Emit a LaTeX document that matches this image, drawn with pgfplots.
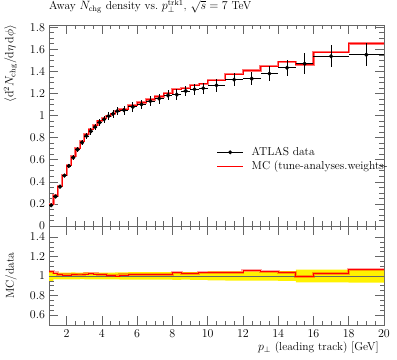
\documentclass[border=0pt]{standalone}
\usepackage{pgfplots}
\usepackage{pgfplotstable}
\usepgfplotslibrary{fillbetween}
\pgfplotsset{compat=1.18}

\pgfplotstableread{
xc dx y ey
1.125 0.125 0.187 0.0095
1.375 0.125 0.267 0.0093
1.625 0.125 0.356 0.0125
1.875 0.125 0.456 0.016
2.125 0.125 0.543 0.019
2.375 0.125 0.619 0.022
2.625 0.125 0.692 0.024
2.875 0.125 0.755 0.026
3.125 0.125 0.815 0.029
3.375 0.125 0.857 0.030
3.625 0.125 0.896 0.031
3.875 0.125 0.937 0.033
4.125 0.125 0.965 0.034
4.375 0.125 0.995 0.035
4.625 0.125 1.015 0.036
4.875 0.125 1.040 0.037
5.25 0.25 1.048 0.040
5.75 0.25 1.078 0.042
6.25 0.25 1.100 0.043
6.75 0.25 1.130 0.044
7.25 0.25 1.153 0.045
7.75 0.25 1.182 0.046
8.25 0.25 1.190 0.047
8.75 0.25 1.222 0.048
9.25 0.25 1.238 0.050
9.75 0.25 1.247 0.050
10.5 0.5 1.274 0.058
11.5 0.5 1.325 0.062
12.5 0.5 1.334 0.062
13.5 0.5 1.379 0.065
14.5 0.5 1.433 0.072
15.5 0.5 1.469 0.095
17 1 1.536 0.100
19 1 1.550 0.105
}\datatab

\pgfplotstableread{
xl mc r up lo
1.00 0.1958 1.047 1.051 0.949
1.25 0.2753 1.031 1.035 0.965
1.50 0.3603 1.012 1.035 0.965
1.75 0.4606 1.010 1.035 0.965
2.00 0.5484 1.010 1.035 0.965
2.25 0.6301 1.018 1.036 0.964
2.50 0.7058 1.020 1.035 0.965
2.75 0.7701 1.020 1.034 0.966
3.00 0.8321 1.021 1.036 0.964
3.25 0.8759 1.022 1.035 0.965
3.50 0.9148 1.021 1.035 0.965
3.75 0.9520 1.016 1.035 0.965
4.00 0.9766 1.012 1.035 0.965
4.25 0.9990 1.004 1.035 0.965
4.50 1.0170 1.002 1.035 0.965
4.75 1.0400 1.000 1.036 0.964
5.0 1.0585 1.010 1.038 0.962
5.5 1.0952 1.016 1.039 0.961
6.0 1.1176 1.016 1.039 0.961
6.5 1.1458 1.014 1.039 0.961
7.0 1.1714 1.016 1.039 0.961
7.5 1.2009 1.016 1.039 0.961
8.0 1.2376 1.040 1.040 0.960
8.5 1.2489 1.022 1.039 0.961
9.0 1.2727 1.028 1.040 0.960
9.5 1.2869 1.032 1.040 0.960
10 1.3186 1.035 1.046 0.954
11 1.3740 1.037 1.047 0.953
12 1.4074 1.055 1.047 0.953
13 1.4452 1.048 1.047 0.953
14 1.4875 1.038 1.050 0.950
15 1.4617 0.995 1.065 0.935
16 1.5759 1.026 1.065 0.935
18 1.6523 1.066 1.068 0.932
20 1.6523 1.066 1.068 0.932
}\steptab

\pgfplotsset{
  rivet/.style={
    scale only axis, width=335pt,
    xmin=1, xmax=20,
    xtick={2,4,...,20}, minor x tick num=3,
    tick align=inside,
    major tick length=9pt, minor tick length=4.5pt,
    axis line style={black!60, line width=0.6pt},
    tick style={black!60, line width=0.5pt},
  }
}

\begin{document}
\fontsize{11.5}{13.5}\selectfont
\begin{tikzpicture}[x=1pt,y=1pt]
\path (0,0) rectangle (397,358);
\begin{axis}[rivet,
  at={(49pt,133.5pt)}, anchor=south west, height=201pt,
  ymin=0, ymax=1.82,
  ytick={0,0.2,...,1.8}, minor y tick num=3,
  xticklabels={},
  title={Away $N_{\mathrm{chg}}$ density vs.\ $p_\perp^{\mathrm{trk1}}$, $\sqrt{s} = 7$~TeV},
  title style={at={(rel axis cs:0,1.045)}, anchor=base west, inner sep=0pt},
  ylabel={$\langle \mathrm{d}^2 N_{\mathrm{chg}}/\mathrm{d}\eta\,\mathrm{d}\phi\rangle$},
  ylabel style={at={(rel axis cs:-0.0955,1)}, anchor=south east, inner sep=0pt},
  legend cell align=left,
  legend style={at={(rel axis cs:0.5,0.33)}, anchor=west, draw=none, fill=none,
    inner sep=0pt, row sep=3.6pt, column sep=8pt,
    nodes={inner sep=0pt, text height=8.2pt, text depth=2.8pt}},
]
\addlegendimage{black, legend image code/.code={\draw[black, line width=0.8pt] (0pt,0pt)--(26pt,0pt); \fill[black] (13pt,0pt) circle (1.8pt);}}
\addlegendentry{ATLAS data}
\addlegendimage{red, legend image code/.code={\draw[red, line width=1pt] (0pt,0pt)--(26pt,0pt);}}
\addlegendentry{MC (tune-analyses.weights-}

\addplot[red!55, line width=2.2pt, const plot, forget plot] table[x=xl, y=mc] {\steptab};
\addplot[red, line width=0.7pt, const plot, forget plot] table[x=xl, y=mc] {\steptab};
\addplot[black, only marks, mark=*, mark size=1.9pt, forget plot,
  error bars/.cd, x dir=both, x explicit, y dir=both, y explicit,
  error bar style={line width=0.8pt, black}, error mark=none]
  table[x=xc, y=y, x error=dx, y error=ey] {\datatab};
\end{axis}

\begin{axis}[rivet,
  at={(49pt,34pt)}, anchor=south west, height=99.5pt,
  ymin=0.49, ymax=1.515,
  ytick={0.6,0.8,1,1.2,1.4}, minor y tick num=3,
  xlabel={$p_\perp$ (leading track) [GeV]},
  xlabel style={at={(rel axis cs:0.985,-0.251)}, anchor=base east, inner sep=0pt},
  ylabel={MC/data},
  ylabel style={at={(rel axis cs:-0.1134,0.5)}, anchor=center, inner sep=0pt},
]
\addplot[name path=up, draw=none, const plot, forget plot] table[x=xl, y=up] {\steptab};
\addplot[name path=lo, draw=none, const plot, forget plot] table[x=xl, y=lo] {\steptab};
\addplot[yellow, forget plot] fill between[of=up and lo];
\addplot[black!60, line width=0.6pt, forget plot] coordinates {(1,1) (20,1)};
\addplot[red, opacity=0.35, line width=3pt, const plot, forget plot] table[x=xl, y=r] {\steptab};
\addplot[red, line width=0.8pt, const plot, forget plot] table[x=xl, y=r] {\steptab};
\end{axis}
\end{tikzpicture}
\end{document}
